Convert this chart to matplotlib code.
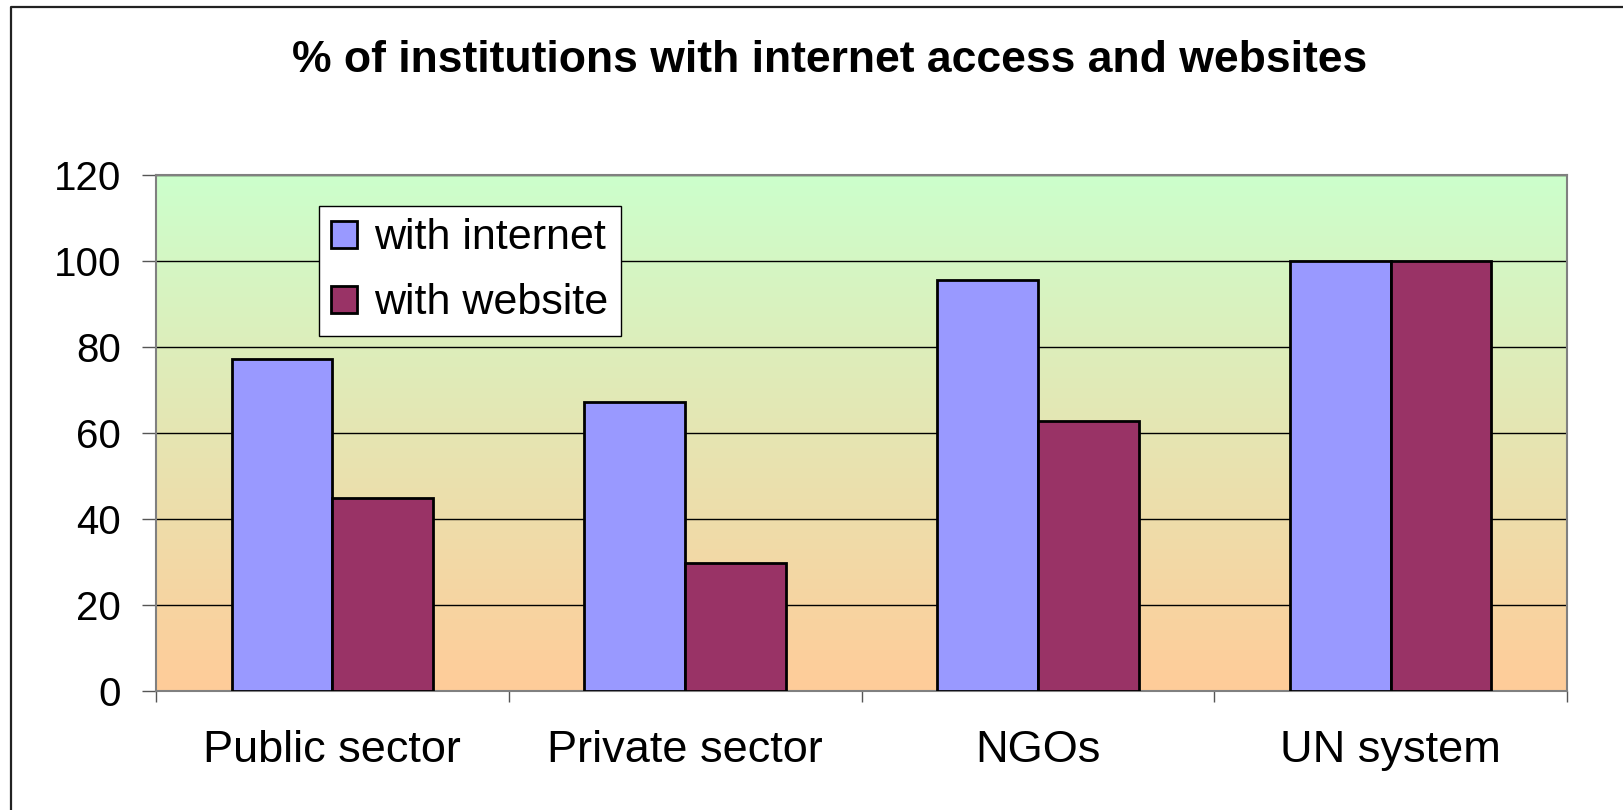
import numpy as np
import matplotlib.pyplot as plt
from matplotlib.colors import LinearSegmentedColormap
from matplotlib.lines import Line2D

categories = ["Public sector", "Private sector", "NGOs", "UN system"]
with_internet = [77.2, 67.2, 95.6, 100]
with_website = [44.9, 29.8, 62.8, 100]
series_names = ["with internet", "with website"]
y_ticks = [0, 20, 40, 60, 80, 100, 120]

W, H = 1623, 810
fig = plt.figure(figsize=(W / 100, H / 100), dpi=100)
fig.patch.set_facecolor("white")

# plot area in pixel coordinates
left, right, top, bottom = 156, 1567, 175, 691
ax = fig.add_axes([left / W, 1 - bottom / H, (right - left) / W, (bottom - top) / H])

# gradient fill of the plot area: peach at the bottom, light green on top
grad = LinearSegmentedColormap.from_list("bg", ["#FFCC99", "#CCFFCC"])
ax.imshow(np.linspace(0, 1, 256).reshape(-1, 1), cmap=grad, origin="lower",
          aspect="auto", extent=[0, 1, 0, 1], transform=ax.transAxes, zorder=0)

x = np.arange(len(categories))
w = 1 / 3.5
ax.bar(x - w / 2, with_internet, w, color="#9999FF", edgecolor="black",
       linewidth=2, label=series_names[0], zorder=3)
ax.bar(x + w / 2, with_website, w, color="#993366", edgecolor="black",
       linewidth=2, label=series_names[1], zorder=3)

ax.set_xlim(-0.5, len(categories) - 0.5)
ax.set_ylim(0, 120)
ax.set_yticks(y_ticks)
ax.yaxis.grid(True, color="black", linewidth=1, zorder=1)
ax.set_axisbelow(True)

# category boundaries get the tick marks, labels sit in the middle
ax.set_xticks(np.arange(len(categories) + 1) - 0.5)
ax.set_xticklabels([])
ax.set_xticks(x, minor=True)
ax.set_xticklabels(categories, minor=True)
ax.tick_params(axis="x", which="major", length=8, width=1, color="#555555", direction="out")
ax.tick_params(axis="x", which="minor", length=0, pad=28, labelsize=32.5)
ax.tick_params(axis="y", length=10, width=1, color="#555555", direction="out",
               pad=15, labelsize=29)
for lab in ax.get_xticklabels(minor=True) + ax.get_yticklabels():
    lab.set_family("Liberation Sans")

for s in ax.spines.values():
    s.set_color("#808080")
    s.set_linewidth(1.5)

leg = fig.legend(loc="upper left", bbox_to_anchor=(319 / W, 1 - 206 / H),
                 borderaxespad=0, fancybox=False, framealpha=1, edgecolor="black",
                 prop={"family": "Liberation Sans", "size": 31},
                 handlelength=0.6, handleheight=0.6, handletextpad=0.4,
                 labelspacing=0.58, borderpad=0.29)
leg.get_frame().set_linewidth(1)

fig.text(830 / W, 1 - 72 / H, "% of institutions with internet access and websites",
         ha="center", va="baseline", fontsize=32, fontweight="bold",
         family=["Liberation Sans Narrow", "Liberation Sans"])

# outer chart border (only top and left edges fall inside the image)
fig.add_artist(Line2D([11 / W, 11 / W, 1], [0, 1 - 7 / H, 1 - 7 / H],
                      transform=fig.transFigure, color="#222222", linewidth=1.6))

fig.savefig("out.png", dpi=100)
